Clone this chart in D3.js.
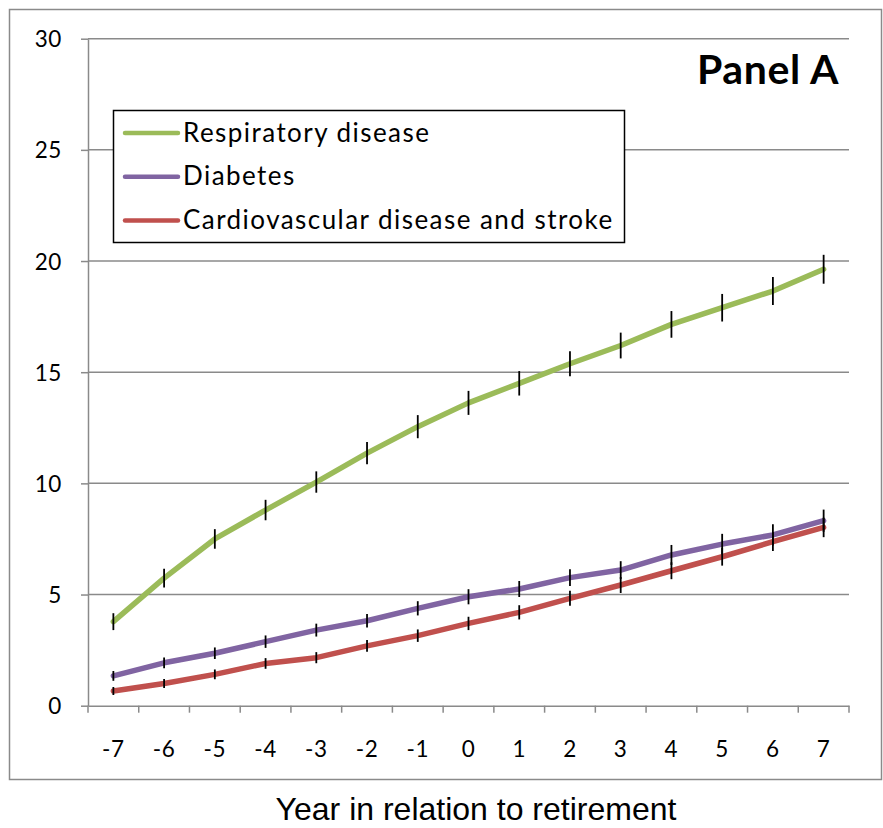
<!DOCTYPE html>
<html>
<head>
<meta charset="utf-8">
<script src="https://cdn.jsdelivr.net/npm/d3@7"></script>
<style>
    body { margin: 0; background: #fff; }
    svg text { fill: #000; }
</style>
</head>
<body>
<div id="chart"></div>
<script>
// data
var years = ["-7", "-6", "-5", "-4", "-3", "-2", "-1", "0", "1", "2", "3", "4", "5", "6", "7"];
var respiratory = [3.78, 5.74, 7.5, 8.8, 10.06, 11.36, 12.55, 13.62, 14.5, 15.38, 16.2, 17.15, 17.9, 18.65, 19.63];
var respiratoryErr = [0.38, 0.42, 0.44, 0.46, 0.48, 0.5, 0.52, 0.54, 0.55, 0.56, 0.58, 0.6, 0.62, 0.63, 0.65];
var diabetes = [1.34, 1.93, 2.36, 2.88, 3.4, 3.82, 4.38, 4.9, 5.25, 5.76, 6.1, 6.78, 7.27, 7.68, 8.32];
var diabetesErr = [0.22, 0.24, 0.26, 0.28, 0.29, 0.3, 0.32, 0.34, 0.36, 0.38, 0.4, 0.45, 0.46, 0.48, 0.5];
var cardio = [0.66, 1.0, 1.41, 1.9, 2.16, 2.69, 3.15, 3.7, 4.2, 4.83, 5.43, 6.07, 6.7, 7.38, 8.02];
var cardioErr = [0.18, 0.2, 0.22, 0.24, 0.25, 0.26, 0.28, 0.3, 0.32, 0.34, 0.36, 0.38, 0.4, 0.42, 0.44];
var yTicks = [0, 5, 10, 15, 20, 25, 30];

var seriesNames = ["Respiratory disease", "Diabetes", "Cardiovascular disease and stroke"];
var seriesColors = ["#9bbb59", "#8064a2", "#c0504d"];

var series = [
    {name: seriesNames[0], color: seriesColors[0], values: respiratory, err: respiratoryErr},
    {name: seriesNames[1], color: seriesColors[1], values: diabetes, err: diabetesErr},
    {name: seriesNames[2], color: seriesColors[2], values: cardio, err: cardioErr}
];

var width = 883, height = 828;
var plot = {left: 88, right: 849, top: 38.7, bottom: 705.7};
var gridColor = "#8a8a8a";
var bodyFont = "Lato, 'Open Sans', sans-serif";

var svg = d3.select("#chart")
    .append("svg")
    .attr("width", width)
    .attr("height", height);

// outer chart border
svg.append("rect")
    .attr("x", 9.5)
    .attr("y", 9.5)
    .attr("width", 872)
    .attr("height", 770)
    .attr("fill", "none")
    .attr("stroke", gridColor)
    .attr("stroke-width", 1.5);

var x = d3.scaleBand()
    .domain(years)
    .range([plot.left, plot.right])
    .padding(0);

var y = d3.scaleLinear()
    .domain([0, 30])
    .range([plot.bottom, plot.top]);

function cx(d) {
    return x(d) + x.bandwidth() / 2;
}

// horizontal gridlines
svg.append("g")
    .selectAll("line")
    .data(yTicks.filter(function (d) { return d > 0; }))
    .enter()
    .append("line")
    .attr("x1", plot.left)
    .attr("x2", plot.right)
    .attr("y1", function (d) { return y(d); })
    .attr("y2", function (d) { return y(d); })
    .attr("stroke", gridColor)
    .attr("stroke-width", 1.5);

// y axis
var yAxis = svg.append("g")
    .attr("transform", "translate(" + plot.left + ",0)")
    .call(d3.axisLeft(y).tickValues(yTicks).tickSize(7).tickPadding(19).tickSizeOuter(0));
yAxis.select(".domain").attr("stroke", gridColor).attr("stroke-width", 1.5);
yAxis.selectAll(".tick line").attr("stroke", gridColor).attr("stroke-width", 1.5);
yAxis.selectAll(".tick text")
    .attr("font-family", bodyFont)
    .attr("font-size", 22.5)
    .attr("letter-spacing", 0.6)
    .attr("dy", "0.36em");

// x axis: labels at category centres, tick marks between categories
var xAxis = svg.append("g")
    .attr("transform", "translate(0," + plot.bottom + ")")
    .call(d3.axisBottom(x).tickSize(0).tickPadding(51));
xAxis.select(".domain").attr("stroke", gridColor).attr("stroke-width", 1.5);
xAxis.selectAll(".tick text")
    .attr("font-family", bodyFont)
    .attr("font-size", 22.5)
    .attr("letter-spacing", 0.6)
    .attr("dy", "0");

var bounds = years.map(function (d) { return x(d); }).concat([plot.right]);
xAxis.selectAll(".bound")
    .data(bounds)
    .enter()
    .append("line")
    .attr("class", "bound")
    .attr("x1", function (d) { return d; })
    .attr("x2", function (d) { return d; })
    .attr("y1", 0)
    .attr("y2", 7)
    .attr("stroke", gridColor)
    .attr("stroke-width", 1.5);

// lines
var line = d3.line()
    .x(function (d, i) { return cx(years[i]); })
    .y(function (d) { return y(d); });

svg.append("g")
    .selectAll("path")
    .data(series)
    .enter()
    .append("path")
    .attr("d", function (s) { return line(s.values); })
    .attr("fill", "none")
    .attr("stroke", function (s) { return s.color; })
    .attr("stroke-width", 5.5)
    .attr("stroke-linejoin", "round")
    .attr("stroke-linecap", "round");

// error bars on top
series.forEach(function (s) {
    svg.append("g")
        .selectAll("line")
        .data(s.values)
        .enter()
        .append("line")
        .attr("x1", function (d, i) { return cx(years[i]); })
        .attr("x2", function (d, i) { return cx(years[i]); })
        .attr("y1", function (d, i) { return y(d - s.err[i]); })
        .attr("y2", function (d, i) { return y(d + s.err[i]); })
        .attr("stroke", "#000")
        .attr("stroke-width", 1.8);
});

// legend
var legend = svg.append("g");
legend.append("rect")
    .attr("x", 113.5)
    .attr("y", 110.5)
    .attr("width", 511)
    .attr("height", 132)
    .attr("fill", "#fff")
    .attr("stroke", "#000")
    .attr("stroke-width", 1.5);

var rows = legend.selectAll(".row")
    .data(series)
    .enter()
    .append("g")
    .attr("class", "row")
    .attr("transform", function (s, i) { return "translate(0," + (133 + i * 43.7) + ")"; });

rows.append("line")
    .attr("x1", 125)
    .attr("x2", 178)
    .attr("stroke", function (s) { return s.color; })
    .attr("stroke-width", 4.5)
    .attr("stroke-linecap", "round");

rows.append("text")
    .attr("x", 183)
    .attr("y", 8.5)
    .attr("font-family", bodyFont)
    .attr("font-size", 26)
    .attr("letter-spacing", 1.45)
    .text(function (s) { return s.name; });

// panel label
svg.append("text")
    .attr("x", 839)
    .attr("y", 84)
    .attr("text-anchor", "end")
    .attr("font-family", bodyFont)
    .attr("font-weight", "bold")
    .attr("font-size", 41)
    .attr("letter-spacing", 0.6)
    .text("Panel A");

// x axis title
svg.append("text")
    .attr("x", 476)
    .attr("y", 820)
    .attr("text-anchor", "middle")
    .attr("font-family", "'Liberation Sans', Arial, sans-serif")
    .attr("font-size", 32)
    .text("Year in relation to retirement");
</script>
</body>
</html>
